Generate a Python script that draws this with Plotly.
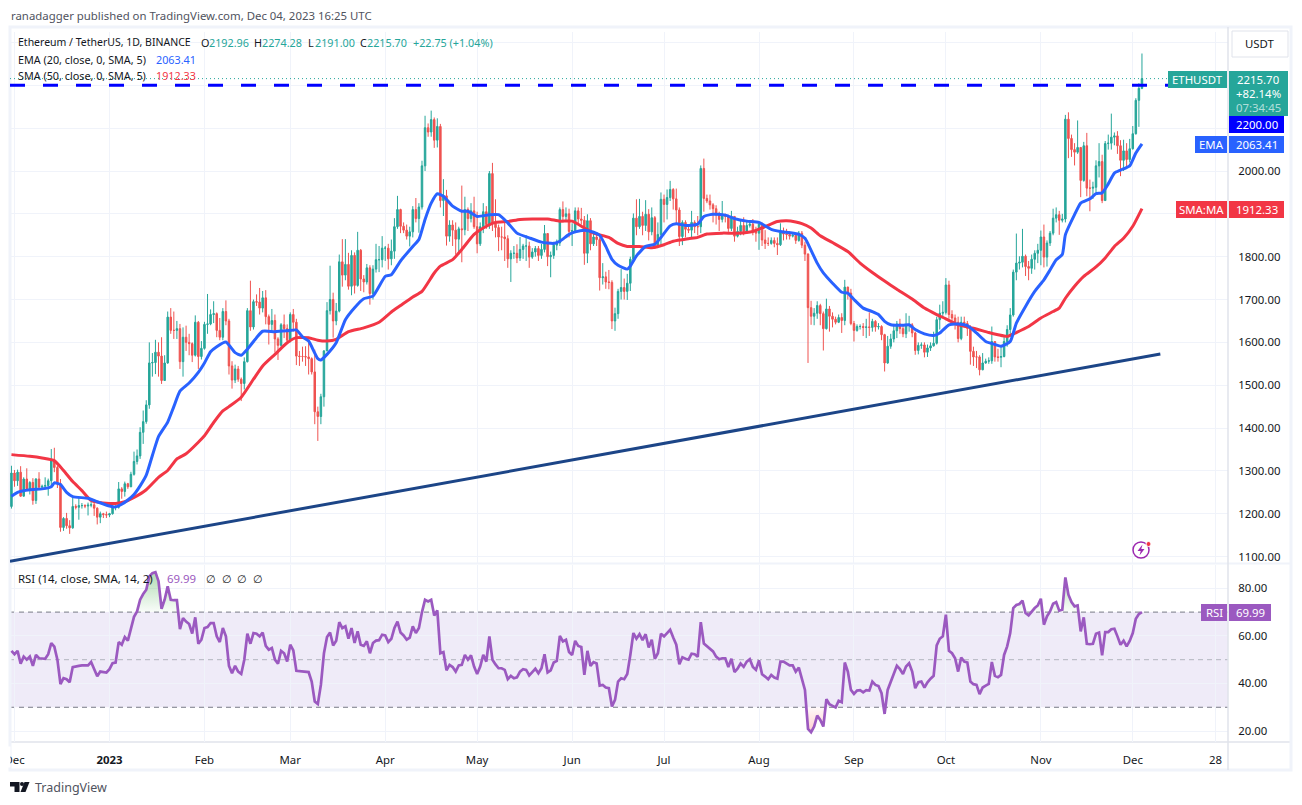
import numpy as np
import pandas as pd
import plotly.graph_objects as go

FIRST_DAY = "2022-11-30"
first_open = 1217
closes = [1295,
 1277,1297,1241,1281,1258,1273,1231,1281,1262,1264,1266,1277,1324,1308,1270,1168,1189,1172,1167,1217,1215,1219,1219,1218,1220,1221,1213,1192,1200,1198,1197,
 1200,1214,1215,1258,1252,1270,1263,1292,1322,1335,1390,1415,1454,1552,1553,1577,1568,1511,1552,1659,1628,1628,1632,1555,1612,1600,1597,1570,1647,1567,1586,
 1642,1643,1665,1667,1628,1612,1672,1650,1545,1512,1538,1514,1504,1555,1674,1636,1695,1694,1680,1704,1660,1642,1651,1608,1593,1641,1632,1605,
 1665,1647,1568,1567,1567,1566,1562,1531,1438,1427,1473,1580,1674,1700,1650,1673,1788,1757,1782,1731,1803,1733,1815,1748,1741,1774,1714,1771,1793,1793,1820,
 1820,1795,1813,1870,1910,1871,1862,1848,1858,1910,1889,1916,2012,2101,2091,2120,2072,2104,1931,1942,1848,1874,1862,1841,1865,1863,1910,1889,1907,1870,
 1830,1870,1905,1875,1994,1878,1868,1846,1846,1842,1795,1808,1808,1797,1817,1825,1825,1799,1811,1819,1803,1817,1854,1800,1803,1827,1832,1910,1894,1900,1859,
 1861,1907,1888,1885,1808,1884,1830,1846,1840,1751,1753,1741,1740,1650,1667,1719,1728,1719,1738,1794,1890,1870,1894,1873,1899,1858,1891,1827,1852,1934,
 1922,1938,1957,1935,1909,1847,1880,1864,1862,1880,1870,1870,2006,1936,1930,1921,1912,1897,1887,1899,1894,1866,1894,1848,1859,1873,1860,1873,1876,1860,1855,
 1876,1839,1831,1831,1838,1831,1828,1856,1853,1852,1848,1850,1838,1855,1827,1806,1681,1661,1668,1686,1667,1632,1678,1661,1654,1647,1658,1651,1729,1715,1644,
 1628,1637,1637,1635,1636,1635,1649,1636,1637,1618,1552,1591,1608,1627,1643,1632,1620,1641,1641,1622,1581,1593,1594,1577,1587,1592,1598,1653,1668,1670,
 1734,1665,1657,1647,1609,1647,1644,1633,1579,1566,1566,1536,1552,1556,1557,1602,1566,1565,1567,1602,1630,1664,1764,1785,1787,1801,1777,1773,1794,1808,1815,
 1846,1799,1832,1855,1890,1898,1885,1888,2121,2076,2050,2044,2055,1978,2059,1960,1960,1962,2012,2022,1931,2064,2065,2079,2082,2059,2025,2047,2027,2052,
 2087,2165,2192.96,2215.70]
highs = [1312,
 1302,1303,1311,1285,1306,1276,1283,1283,1297,1268,1285,1282,1351,1354,1312,1281,1192,1202,1185,1238,1222,1238,1225,1222,1226,1228,1232,1215,1205,1202,1205,
 1202,1220,1220,1274,1262,1275,1272,1298,1345,1350,1402,1441,1465,1600,1575,1606,1600,1612,1570,1672,1680,1672,1650,1643,1635,1639,1620,1600,1663,1650,1603,
 1648,1713,1677,1696,1670,1657,1680,1698,1655,1556,1548,1545,1518,1565,1680,1744,1700,1712,1727,1720,1722,1665,1678,1665,1612,1645,1665,1642,
 1670,1678,1655,1580,1590,1591,1600,1565,1583,1450,1480,1582,1694,1779,1716,1692,1805,1841,1841,1809,1815,1810,1858,1818,1757,1783,1780,1780,1830,1825,1848,
 1825,1830,1840,1890,1942,1912,1880,1875,1870,1918,1937,1925,2024,2129,2111,2141,2125,2123,2110,1981,1956,1885,1885,1880,1870,1966,1940,1915,1925,1940,
 1905,1880,1925,1918,2000,2019,1934,1875,1870,1887,1850,1815,1825,1829,1846,1830,1850,1835,1820,1825,1825,1830,1874,1855,1812,1835,1840,1915,1929,1915,1912,
 1878,1915,1915,1914,1895,1899,1890,1860,1855,1845,1785,1765,1769,1745,1681,1725,1771,1749,1760,1800,1901,1934,1935,1905,1932,1911,1915,1895,1880,1950,
 1945,1957,1977,1960,1959,1915,1885,1885,1875,1907,1885,1895,2013,2029,1945,1945,1925,1920,1905,1930,1900,1898,1907,1893,1870,1885,1892,1885,1885,1888,1870,
 1880,1880,1862,1845,1845,1845,1845,1878,1868,1865,1860,1855,1855,1860,1860,1835,1808,1697,1680,1696,1690,1672,1702,1685,1670,1660,1665,1668,1746,1730,1725,
 1650,1642,1642,1645,1655,1670,1655,1652,1645,1640,1620,1615,1620,1640,1650,1655,1640,1668,1662,1645,1625,1600,1600,1600,1595,1600,1625,1660,1688,1696,
 1750,1744,1675,1665,1660,1660,1660,1650,1640,1590,1580,1570,1575,1562,1565,1637,1600,1585,1590,1615,1640,1680,1770,1854,1801,1865,1805,1790,1805,1815,1830,
 1861,1875,1838,1860,1912,1915,1907,1900,2131,2137,2085,2065,2118,2055,2068,2089,1980,1975,2025,2065,2038,2070,2085,2134,2090,2093,2072,2073,2065,2075,
 2105,2170,2205,2274.28]
lows = [1212,
 1263,1265,1240,1240,1254,1245,1221,1223,1258,1259,1257,1242,1265,1297,1260,1158,1160,1165,1153,1165,1210,1186,1212,1213,1196,1215,1195,1175,1178,1190,1190,
 1192,1198,1208,1212,1235,1240,1258,1262,1289,1315,1328,1363,1410,1445,1520,1526,1520,1503,1510,1550,1620,1608,1608,1538,1520,1580,1570,1554,1567,1538,1560,
 1583,1620,1640,1645,1612,1605,1605,1640,1525,1492,1505,1508,1463,1490,1553,1627,1630,1685,1665,1670,1642,1595,1625,1576,1559,1590,1610,1600,
 1600,1625,1547,1545,1555,1545,1525,1525,1409,1370,1409,1450,1590,1665,1611,1640,1670,1730,1745,1723,1710,1714,1730,1720,1717,1735,1688,1700,1763,1764,1775,
 1790,1770,1780,1795,1865,1855,1855,1840,1824,1845,1880,1856,1910,2000,2080,2080,2054,2055,1915,1895,1826,1835,1825,1805,1805,1787,1850,1860,1880,1865,
 1808,1825,1855,1865,1865,1860,1845,1813,1815,1790,1774,1741,1795,1785,1790,1795,1790,1774,1795,1800,1790,1795,1810,1778,1752,1795,1815,1825,1880,1885,1845,
 1825,1855,1875,1875,1781,1785,1815,1825,1825,1721,1735,1725,1724,1631,1627,1655,1700,1700,1699,1720,1785,1850,1865,1850,1860,1838,1850,1818,1820,1825,
 1880,1887,1930,1910,1875,1825,1827,1845,1855,1845,1855,1850,1855,1905,1925,1910,1880,1875,1860,1880,1880,1858,1860,1835,1845,1850,1850,1855,1868,1850,1835,
 1816,1825,1818,1825,1828,1822,1804,1825,1838,1840,1840,1845,1830,1835,1820,1790,1552,1641,1640,1655,1640,1581,1630,1625,1635,1642,1645,1622,1640,1700,1640,
 1602,1625,1630,1615,1610,1615,1625,1625,1630,1605,1532,1550,1585,1600,1610,1620,1612,1610,1625,1612,1571,1572,1585,1565,1566,1580,1590,1595,1630,1660,
 1665,1655,1640,1630,1600,1605,1635,1615,1548,1545,1540,1523,1535,1550,1550,1550,1555,1555,1542,1565,1590,1620,1660,1745,1770,1775,1755,1745,1760,1770,1785,
 1780,1775,1777,1825,1850,1880,1851,1880,1880,2030,2033,2013,2040,1939,1975,1941,1906,1935,1950,1985,1925,1930,2050,2050,2060,2040,1988,2000,2010,2020,
 2050,2085,2103,2191.00]
rsi = [53.7,
 52.3,53.7,48.3,51.3,50,51.3,47.4,52,50.6,50.5,50.4,52.3,57,55.5,50,39.7,42.2,41.8,40.5,46.9,47,47.4,47.6,47.6,47.6,49,45.7,43,45,44.8,44.6,
 46,48.5,48.8,57.4,56.3,59.5,58,63.3,68,70.3,75.2,77.6,79.4,85,86.4,86.8,83,71.4,75.2,80.8,75.2,75,75,62.8,67.5,66,65,61,67.8,56.7,58.4,
 63.3,63.7,65.4,65.4,59.8,57.4,63.3,59.8,47.4,44.3,47.4,45,44,50,60.9,56.7,61.2,60.9,59.8,61.4,55.8,54.2,54.9,50,48.3,53.7,52.7,49.2,
 56.3,53.9,45.3,45.1,45,44.9,44.8,40.8,32.4,31.4,39.4,52.7,59.5,61.4,56,58,65.8,63.3,64,58.8,63.3,57,61.9,56.3,55.8,57.7,52.7,57,58,58.2,60.5,
 60.2,57.4,58.8,63.3,66,61.4,60.2,58.4,59.3,64,61.2,63.3,70,75.2,74.5,75.2,68.6,70.7,52.7,53.2,45.5,47.8,46.9,45,47.6,47.8,52,50,51.8,47.1,
 44,47.1,52,49.2,59.8,50,48,46.4,46.4,45.7,41.8,43.2,42.2,42.6,45,46,45.7,43.4,44.8,46.2,44.3,46.4,52.3,44.6,45.5,48.8,49.5,60,57.7,58.4,53.2,
 52,57.9,55.8,55.3,43.6,53.7,47.4,49,48.4,39.1,39.4,38.3,38,30.3,33.1,40.8,42.2,41.8,44,52,61.2,58.8,60.7,58.2,60.7,55.1,58.4,50.4,52.7,60.9,
 59.8,61.2,62.6,59.3,56.3,48.1,51,50.4,50,52.5,52.3,51.2,65.8,56.8,55.8,54.9,53.5,51.3,50.2,50.6,50.6,46.9,50.4,44.8,46.2,48.4,47,49.2,50.2,46.9,45.7,
 49.7,43.9,42.9,41.8,43.6,42.5,42,49.2,49.2,48.4,47.6,47.6,45,46.7,42.2,37.3,20.9,19.5,21.9,26.5,24.7,21.9,33.4,31.3,30.6,29.9,32.7,32.1,48.8,45,37.3,
 35.6,37,37.2,36.3,37.2,37,40.8,39.4,38.9,35.9,27.2,37.3,40.5,44.3,47.4,46,44,47.1,48.5,45,38,40.5,40.8,38.3,40.5,42,43.2,56,58.8,59.8,
 68.9,53.7,52.7,50.6,45,50.9,49.2,48.8,40.8,39.7,39.4,35.5,38.3,39.1,39.8,49,43.2,42.6,43.6,52,55.6,61.2,71.7,73,73.4,74.8,69.6,68.6,70.3,71.7,72.8,
 75.6,64.7,68.2,70.3,73.5,74.2,70.6,71,84.6,77.3,74.2,72.4,72.8,61.9,67.8,56.7,56.5,56.7,60.9,61.4,51.8,61.6,61.6,62.8,63,59.8,56.3,58,55.6,57.9,
 61.2,67.2,69.2,69.99]

ema_dates = ["2022-11-30","2022-12-02","2022-12-06","2022-12-10","2022-12-13","2022-12-14","2022-12-16","2022-12-18","2022-12-20","2022-12-25","2022-12-28",
 "2023-01-01","2023-01-03","2023-01-05","2023-01-07","2023-01-09","2023-01-11","2023-01-13","2023-01-15","2023-01-17","2023-01-20","2023-01-22","2023-01-24","2023-01-27","2023-01-30",
 "2023-02-01","2023-02-03","2023-02-05","2023-02-08","2023-02-11","2023-02-13","2023-02-15","2023-02-18","2023-02-20","2023-02-24","2023-02-28",
 "2023-03-03","2023-03-05","2023-03-07","2023-03-10","2023-03-11","2023-03-13","2023-03-16","2023-03-19","2023-03-22","2023-03-25","2023-03-28",
 "2023-04-01","2023-04-03","2023-04-06","2023-04-10","2023-04-12","2023-04-14","2023-04-16","2023-04-18","2023-04-20","2023-04-23","2023-04-26","2023-04-28",
 "2023-05-01","2023-05-05","2023-05-08","2023-05-11","2023-05-14","2023-05-18","2023-05-22","2023-05-26","2023-05-28","2023-05-31",
 "2023-06-02","2023-06-05","2023-06-08","2023-06-10","2023-06-12","2023-06-14","2023-06-16","2023-06-19","2023-06-20","2023-06-22","2023-06-25","2023-06-28","2023-06-30",
 "2023-07-03","2023-07-05","2023-07-08","2023-07-12","2023-07-14","2023-07-17","2023-07-21","2023-07-24","2023-07-28",
 "2023-08-01","2023-08-05","2023-08-08","2023-08-11","2023-08-14","2023-08-16","2023-08-17","2023-08-20","2023-08-22","2023-08-25","2023-08-28","2023-08-30",
 "2023-09-01","2023-09-04","2023-09-07","2023-09-09","2023-09-11","2023-09-13","2023-09-17","2023-09-19","2023-09-21","2023-09-24","2023-09-27","2023-09-29",
 "2023-10-02","2023-10-05","2023-10-08","2023-10-11","2023-10-14","2023-10-17","2023-10-19","2023-10-22","2023-10-24","2023-10-27","2023-10-30",
 "2023-11-02","2023-11-04","2023-11-06","2023-11-08","2023-11-09","2023-11-12","2023-11-14","2023-11-17","2023-11-19","2023-11-21","2023-11-23","2023-11-25","2023-11-27","2023-11-30",
 "2023-12-01","2023-12-02","2023-12-04"]
ema_values = [1241,1250,1256,1258,1263,1272,1268,1250,1240,1236,1228,
 1218,1216,1222,1232,1245,1265,1290,1336,1380,1414,1450,1486,1505,1530,
 1552,1578,1590,1601,1576,1570,1584,1611,1626,1625,1627,
 1629,1613,1603,1562,1559,1572,1599,1653,1681,1702,1708,
 1754,1758,1790,1824,1840,1887,1925,1947,1941,1918,1906,1906,
 1894,1898,1898,1879,1855,1844,1834,1831,1836,1852,
 1858,1862,1857,1850,1824,1794,1780,1771,1778,1802,1824,1829,1845,
 1872,1877,1873,1876,1894,1899,1897,1889,1883,
 1880,1864,1859,1856,1852,1843,1830,1785,1762,1738,1717,1715,
 1700,1680,1672,1665,1649,1641,1640,1641,1630,1620,1616,1622,
 1641,1643,1639,1622,1602,1595,1591,1602,1645,1684,1719,
 1746,1769,1793,1805,1851,1898,1925,1935,1947,1949,1970,1995,2002,2012,
 2026,2042,2063.41]
sma_dates = ["2022-11-30","2022-12-06","2022-12-10","2022-12-14","2022-12-17","2022-12-20","2022-12-23","2022-12-26",
 "2023-01-01","2023-01-03","2023-01-06","2023-01-09","2023-01-13","2023-01-17","2023-01-20","2023-01-23","2023-01-26","2023-01-30",
 "2023-02-01","2023-02-04","2023-02-07","2023-02-09","2023-02-13","2023-02-17","2023-02-20","2023-02-24","2023-02-28",
 "2023-03-03","2023-03-07","2023-03-10","2023-03-13","2023-03-16","2023-03-20","2023-03-25","2023-03-30",
 "2023-04-03","2023-04-06","2023-04-10","2023-04-13","2023-04-17","2023-04-19","2023-04-23","2023-04-26","2023-04-30",
 "2023-05-03","2023-05-07","2023-05-11","2023-05-15","2023-05-19","2023-05-24","2023-05-28",
 "2023-06-01","2023-06-05","2023-06-08","2023-06-13","2023-06-16","2023-06-19","2023-06-23","2023-06-27",
 "2023-07-01","2023-07-04","2023-07-09","2023-07-12","2023-07-15","2023-07-20","2023-07-25","2023-07-30",
 "2023-08-03","2023-08-07","2023-08-10","2023-08-13","2023-08-15","2023-08-18","2023-08-21","2023-08-25","2023-08-30",
 "2023-09-03","2023-09-07","2023-09-11","2023-09-15","2023-09-20","2023-09-24","2023-09-28",
 "2023-10-01","2023-10-05","2023-10-10","2023-10-15","2023-10-18","2023-10-21","2023-10-24","2023-10-28",
 "2023-11-01","2023-11-05","2023-11-07","2023-11-09","2023-11-12","2023-11-15","2023-11-19","2023-11-22","2023-11-25","2023-11-28",
 "2023-12-01","2023-12-04"]
sma_values = [1338,1334,1330,1324,1301,1275,1254,1231,
 1224,1224,1228,1238,1256,1285,1301,1328,1340,1367,
 1382,1413,1440,1450,1472,1514,1545,1572,1599,
 1611,1611,1605,1603,1607,1625,1634,1647,
 1671,1686,1706,1719,1762,1778,1793,1817,1852,
 1867,1880,1882,1887,1888,1888,1883,
 1883,1867,1855,1845,1831,1824,1824,1821,
 1828,1836,1842,1845,1853,1855,1855,1859,
 1870,1882,1884,1881,1877,1867,1849,1833,1812,
 1785,1763,1743,1724,1701,1680,1665,
 1655,1641,1633,1623,1618,1614,1623,1637,
 1657,1672,1680,1703,1731,1754,1776,1797,1824,1843,
 1871,1912.33]
trend_dates = ["2022-11-29 12:00","2023-12-10"]
trend_prices = [1089,1573]
level_price = 2200
last_price = 2215.70
price_ticks = list(range(1100, 2400, 100))
rsi_ticks = [20, 40, 60, 80]
time_ticks = ["2022-12-01","2023-01-01","2023-02-01","2023-03-01","2023-04-01","2023-05-01","2023-06-01",
              "2023-07-01","2023-08-01","2023-09-01","2023-10-01","2023-11-01","2023-12-01","2023-12-28"]
time_labels = ["Dec","<b>2023</b>","Feb","Mar","Apr","May","Jun","Jul","Aug","Sep","Oct","Nov","Dec","28"]

assert len(closes) == len(highs) == len(lows) == len(rsi) == 370, (len(closes), len(highs), len(lows), len(rsi))
assert len(ema_dates) == len(ema_values), (len(ema_dates), len(ema_values))
assert len(sma_dates) == len(sma_values), (len(sma_dates), len(sma_values))

W, H = 1302, 805
FONT = "Noto Sans"
FS = 11.4
GRID = "#f0f3fa"
BORDER = "#e0e3eb"
TXT = "#131722"
UP, DOWN = "#26a69a", "#ef5350"
EMA_C, SMA_C, RSI_C, LEVEL_C = "#2962ff", "#f23645", "#9b59c0", "#0000ff"
fx = lambda x: x / W
fy = lambda y: 1 - y / H

days = pd.date_range(FIRST_DAY, periods=len(closes), freq="D")
opens = [first_open] + closes[:-1]
hi = np.maximum.reduce([highs, opens, closes])
lo = np.minimum.reduce([lows, opens, closes])
x_range = ["2022-11-29 12:40", "2024-01-01 02:00"]

fig = go.Figure()
fig.add_trace(go.Candlestick(x=days, open=opens, high=hi, low=lo, close=closes, xaxis="x", yaxis="y",
    increasing=dict(line=dict(color=UP, width=1), fillcolor=UP),
    decreasing=dict(line=dict(color=DOWN, width=1), fillcolor=DOWN),
    whiskerwidth=0, hoverinfo="skip"))
fig.add_trace(go.Scatter(x=x_range, y=[last_price]*2, mode="lines", line=dict(color=UP, width=1, dash="1px,3px"), hoverinfo="skip"))
fig.add_trace(go.Scatter(x=x_range, y=[level_price]*2, mode="lines", line=dict(color=LEVEL_C, width=3, dash="15px,18px"), hoverinfo="skip"))
fig.add_trace(go.Scatter(x=trend_dates, y=trend_prices, mode="lines", line=dict(color="#1c4587", width=3), hoverinfo="skip"))
fig.add_trace(go.Scatter(x=pd.to_datetime(sma_dates), y=sma_values, mode="lines", line=dict(color=SMA_C, width=3, shape="spline", smoothing=0.5), hoverinfo="skip"))
fig.add_trace(go.Scatter(x=pd.to_datetime(ema_dates), y=ema_values, mode="lines", line=dict(color=EMA_C, width=3, shape="spline", smoothing=0.5), hoverinfo="skip"))

r = np.array(rsi, dtype=float)
fig.add_trace(go.Scatter(x=days, y=[70]*len(days), mode="lines", line=dict(width=0), xaxis="x2", yaxis="y2", hoverinfo="skip"))
fig.add_trace(go.Scatter(x=days, y=np.maximum(r, 70), mode="lines", line=dict(width=0), fill="tonexty", xaxis="x2", yaxis="y2", hoverinfo="skip",
    fillgradient=dict(type="vertical", start=87, stop=70, colorscale=[[0, "rgba(76,175,80,0.45)"], [1, "rgba(76,175,80,0.03)"]])))
fig.add_trace(go.Scatter(x=days, y=[30]*len(days), mode="lines", line=dict(width=0), xaxis="x2", yaxis="y2", hoverinfo="skip"))
fig.add_trace(go.Scatter(x=days, y=np.minimum(r, 30), mode="lines", line=dict(width=0), fill="tonexty", xaxis="x2", yaxis="y2", hoverinfo="skip",
    fillgradient=dict(type="vertical", start=19, stop=30, colorscale=[[0, "rgba(255,82,82,0.3)"], [1, "rgba(255,82,82,0.03)"]])))
fig.add_trace(go.Scatter(x=days, y=rsi, mode="lines", line=dict(color=RSI_C, width=2.7), xaxis="x2", yaxis="y2", hoverinfo="skip"))

shapes, notes = [], []
def rect(x0, y0, x1, y1, fill=None, line=None, lw=0, layer="below"):
    shapes.append(dict(type="rect", xref="paper", yref="paper", x0=fx(x0), x1=fx(x1), y0=fy(y0), y1=fy(y1),
                       fillcolor=fill or "rgba(0,0,0,0)", line=dict(color=line or "rgba(0,0,0,0)", width=lw), layer=layer))
def hline(x0, x1, y, color, lw=1):
    shapes.append(dict(type="line", xref="paper", yref="paper", x0=fx(x0), x1=fx(x1), y0=fy(y), y1=fy(y), line=dict(color=color, width=lw), layer="below"))
def vline(x, y0, y1, color, lw=1):
    shapes.append(dict(type="line", xref="paper", yref="paper", x0=fx(x), x1=fx(x), y0=fy(y0), y1=fy(y1), line=dict(color=color, width=lw), layer="above"))
def path(points, fill):
    d = "M" + " L".join(f"{fx(a):.5f},{fy(b):.5f}" for a, b in points) + " Z"
    shapes.append(dict(type="path", xref="paper", yref="paper", path=d, fillcolor=fill, line=dict(width=0), layer="above"))
def circle(cx, cy, rad, fill, line=None, lw=0):
    shapes.append(dict(type="circle", xref="paper", yref="paper", x0=fx(cx-rad), x1=fx(cx+rad), y0=fy(cy+rad), y1=fy(cy-rad),
                       fillcolor=fill, line=dict(color=line or "rgba(0,0,0,0)", width=lw), layer="above"))
def text(x, y, s, color=TXT, size=FS, anchor="left"):
    notes.append(dict(xref="paper", yref="paper", x=fx(x), y=fy(y), text=s, showarrow=False, xanchor=anchor, yanchor="middle",
                      font=dict(family=FONT, size=size, color=color), borderpad=0))

# RSI band and levels
shapes.append(dict(type="rect", xref="paper", yref="y2", x0=fx(10), x1=fx(1228), y0=30, y1=70, fillcolor="rgba(126,87,194,0.12)", line=dict(width=0), layer="below"))
for lv, col in [(70, "#787b86"), (50, "#b2b5be"), (30, "#787b86")]:
    shapes.append(dict(type="line", xref="paper", yref="y2", x0=fx(10), x1=fx(1228), y0=lv, y1=lv, line=dict(color=col, width=1, dash="5px,4px"), layer="below"))

# Frame
hline(10, 1291, 563.5, GRID, 2)
hline(10, 1291, 742, BORDER, 1.5)
rect(10, 27, 1291, 770, None, GRID, 3)
vline(1228, 27, 770, BORDER, 1.5)

# Cover for clipped first time label
notes.append(dict(xref="paper", yref="paper", x=fx(0), y=fy(757), xanchor="left", yanchor="middle", text=" ", showarrow=False,
                  width=9, height=20, bgcolor="white", borderpad=0))

# Right side labels
def tag(x0, x1, y0, y1, bg, s, color="white"):
    rect(x0, y0, x1, y1, bg, layer="above")
    text((x0 + x1) / 2, (y0 + y1) / 2, s, color, FS, "center")
shapes.append(dict(type="rect", xref="paper", yref="paper", x0=fx(1232), x1=fx(1288), y0=fy(57), y1=fy(31), fillcolor="white", line=dict(color=BORDER, width=1), layer="above"))
text(1260, 44, "USDT", TXT, FS, "center")
tag(1168, 1227, 71, 88, UP, "ETHUSDT")
rect(1229, 71, 1288, 116, UP, layer="above")
text(1258, 80, "2215.70", "white", FS, "center")
text(1258, 94, "+82.14%", "white", FS, "center")
text(1258, 108, "07:34:45", "rgba(255,255,255,0.65)", FS, "center")
tag(1229, 1284, 116, 133, LEVEL_C, "2200.00")
tag(1195, 1227, 136, 153, EMA_C, "EMA")
tag(1229, 1284, 136, 153, EMA_C, "2063.41")
tag(1176, 1227, 201, 218, SMA_C, "SMA:MA")
tag(1229, 1284, 201, 218, SMA_C, "1912.33")
tag(1201, 1227, 604, 621, RSI_C, "RSI")
tag(1229, 1271, 604, 621, RSI_C, "69.99")

# Header and legends
text(10, 15, "ranadagger published on TradingView.com, Dec 04, 2023 16:25 UTC", "#50535e")
text(17, 42, "Ethereum / TetherUS, 1D, BINANCE", TXT, 10.5)
for xl, l, xv, v in [(200, "O", 208, "2192.96"), (253, "H", 261, "2274.28"), (307, "L", 314, "2191.00"), (359, "C", 366, "2215.70")]:
    text(xl, 42, l, TXT, 10.8)
    text(xv, 42, v, UP, 10.8)
text(412, 42, "+22.75 (+1.04%)", UP, 10.8)
text(17, 59, "EMA (20, close, 0, SMA, 5)", TXT, 10.8)
text(155, 59, "2063.41", EMA_C, 10.8)
text(17, 76, "SMA (50, close, 0, SMA, 5)", TXT, 10.8)
text(155, 76, "1912.33", SMA_C, 10.8)
text(17, 578, "RSI (14, close, SMA, 14, 2)")
text(166, 578, "69.99", RSI_C)
for xn in (205, 221, 236, 252):
    text(xn, 578, "∅", TXT)

# TradingView mark
path([(10, 782), (19.5, 782), (19.5, 792), (14.5, 792), (14.5, 786.5), (10, 786.5)], "#131722")
circle(22, 784, 2, "#131722")
path([(24.5, 782), (29.5, 782), (25.5, 792), (20.5, 792)], "#131722")
text(34, 787, "TradingView", "#50535e", 12.5)

# Bolt badge
circle(1141, 550, 8, "white", "#9c27b0", 1.5)
path([(1142.5, 544.5), (1137.5, 551), (1140.7, 551), (1139.5, 555.5), (1144.5, 549), (1141.3, 549)], "#9c27b0")
circle(1148.5, 544, 2.5, "#f23645", "white", 1)

ax_font = dict(family=FONT, size=FS, color=TXT)
fig.update_layout(
    width=W, height=H, margin=dict(l=0, r=0, t=0, b=0, pad=0), autosize=False,
    paper_bgcolor="white", plot_bgcolor="white", showlegend=False, hovermode=False,
    font=dict(family=FONT), shapes=shapes, annotations=notes,
    xaxis=dict(domain=[fx(10), fx(1228)], range=x_range, type="date", anchor="y", rangeslider=dict(visible=False), automargin=False,
               tickvals=time_ticks, showticklabels=False, ticks="", showgrid=True, gridcolor=GRID, gridwidth=1, zeroline=False, showline=False),
    yaxis=dict(domain=[fy(563), fy(32)], range=[1085, 2324.5], side="right", anchor="x", tickvals=price_ticks, automargin=False,
               ticktext=[f"{v:.2f}" if v <= 2000 else "" for v in price_ticks], ticks="outside", ticklen=7, tickcolor="white",
               showgrid=True, gridcolor=GRID, gridwidth=1, zeroline=False, showline=False, tickfont=ax_font),
    xaxis2=dict(domain=[fx(10), fx(1228)], range=x_range, type="date", anchor="y2", tickvals=time_ticks, ticktext=time_labels, tickangle=0, automargin=False,
                ticks="outside", ticklen=7, tickcolor="white", showgrid=True, gridcolor=GRID, gridwidth=1, zeroline=False, showline=False, tickfont=ax_font),
    yaxis2=dict(domain=[fy(742), fy(565)], range=[15.4, 89.8], side="right", anchor="x2", tickvals=rsi_ticks, automargin=False,
                ticktext=[f"{v:.2f}" for v in rsi_ticks], ticks="outside", ticklen=7, tickcolor="white",
                showgrid=True, gridcolor=GRID, gridwidth=1, zeroline=False, showline=False, tickfont=ax_font),
)
fig.write_html("out.html", config=dict(displayModeBar=False), post_script="document.body.style.margin='0';document.body.style.overflow='hidden';")
